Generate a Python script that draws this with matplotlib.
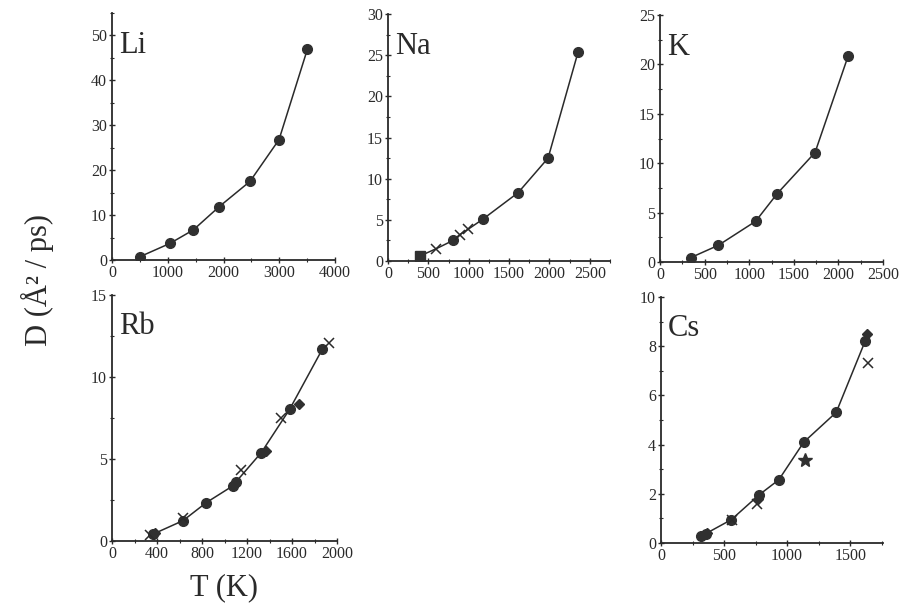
import matplotlib
matplotlib.use("Agg")
import matplotlib.pyplot as plt
from matplotlib.ticker import MultipleLocator

plt.rcParams["font.family"] = ["Liberation Serif", "DejaVu Serif"]

# Li
li_T = [502, 1040, 1459, 1925, 2475, 2996, 3504]
li_D = [0.74, 3.7, 6.7, 11.9, 17.5, 26.8, 46.9]

# Na
na_sq_T, na_sq_D = [393], [0.6]
na_x_T = [599, 888, 992]
na_x_D = [1.5, 3.2, 3.85]
na_c_T = [806, 1178, 1612, 1983, 2355]
na_c_D = [2.5, 5.1, 8.3, 12.5, 25.4]

# K
k_T = [344, 654, 1072, 1315, 1738, 2111]
k_D = [0.44, 1.69, 4.12, 6.93, 11.08, 20.9]

# Rb
rb_c_T = [365, 631, 838, 1076, 1099, 1327, 1579, 1870]
rb_c_D = [0.42, 1.24, 2.34, 3.37, 3.58, 5.39, 8.03, 11.7]
rb_x_T = [335, 631, 1150, 1505, 1925]
rb_x_D = [0.37, 1.38, 4.33, 7.48, 12.1]
rb_d_T = [385, 1372, 1662]
rb_d_D = [0.47, 5.5, 8.35]

# Cs
cs_c_T = [316, 355, 558, 776, 934, 1132, 1389, 1618]
cs_c_D = [0.30, 0.38, 0.95, 1.95, 2.57, 4.1, 5.31, 8.2]
cs_d_T = [368, 768, 1632]
cs_d_D = [0.41, 1.8, 8.5]
cs_x_T = [566, 763, 1645]
cs_x_D = [0.92, 1.6, 7.32]
cs_s_T, cs_s_D = [1145], [3.36]

W, H = 899, 612
fig = plt.figure(figsize=(W / 100, H / 100), dpi=100)

ink = "#2a2a2a"


def make_ax(left, right, bottom, top, xmax, ymax, xmaj, xmin, ymaj, ymin, name):
    ax = fig.add_axes([left / W, 1 - bottom / H, (right - left) / W, (bottom - top) / H])
    ax.set_xlim(0, xmax)
    ax.set_ylim(0, ymax)
    for s in ["top", "right"]:
        ax.spines[s].set_visible(False)
    for s in ["left", "bottom"]:
        ax.spines[s].set_linewidth(1.3)
        ax.spines[s].set_color(ink)
    ax.xaxis.set_major_locator(MultipleLocator(xmaj))
    ax.xaxis.set_minor_locator(MultipleLocator(xmin))
    ax.yaxis.set_major_locator(MultipleLocator(ymaj))
    ax.yaxis.set_minor_locator(MultipleLocator(ymin))
    ax.tick_params(which="major", direction="inout", length=5, width=1, colors=ink,
                   labelsize=11.5, pad=1)
    ax.tick_params(which="minor", direction="inout", length=3, width=0.8, colors=ink)
    ax.text(0.03, 0.84, name, transform=ax.transAxes, fontsize=22, color=ink)
    return ax


def line(ax, T, D):
    ax.plot(T, D, "-", color=ink, lw=1.1, zorder=2)


def circles(ax, T, D):
    ax.plot(T, D, "o", color="#303030", ms=7, ls="none", zorder=3)


def crosses(ax, T, D):
    ax.plot(T, D, "x", color=ink, ms=7.5, mew=1.1, ls="none", zorder=3)


ax = make_ax(112, 335, 260, 13, 4000, 55, 1000, 500, 10, 5, "Li")
line(ax, li_T, li_D)
circles(ax, li_T, li_D)

ax = make_ax(388, 610, 261, 14, 2750, 30, 500, 250, 5, 2.5, "Na")
na_pts = sorted(zip(na_sq_T + na_x_T + na_c_T, na_sq_D + na_x_D + na_c_D))
line(ax, [p[0] for p in na_pts], [p[1] for p in na_pts])
circles(ax, na_c_T, na_c_D)
crosses(ax, na_x_T, na_x_D)
ax.plot(na_sq_T, na_sq_D, "s", color="#303030", ms=6.5, ls="none", zorder=3)

ax = make_ax(660, 883, 262, 15, 2500, 25, 500, 250, 5, 2.5, "K")
line(ax, k_T, k_D)
circles(ax, k_T, k_D)

ax = make_ax(112, 337, 541, 295, 2000, 15, 400, 200, 5, 2.5, "Rb")
line(ax, rb_c_T, rb_c_D)
circles(ax, rb_c_T, rb_c_D)
crosses(ax, rb_x_T, rb_x_D)
ax.plot(rb_d_T, rb_d_D, "D", color="#303030", ms=5.5, ls="none", zorder=3)
ax.set_xlabel("T (K)", fontsize=22, color=ink, labelpad=8)

ax = make_ax(661, 883, 543, 297, 1760, 10, 500, 250, 2, 1, "Cs")
line(ax, cs_c_T, cs_c_D)
circles(ax, cs_c_T, cs_c_D)
crosses(ax, cs_x_T, cs_x_D)
ax.plot(cs_d_T, cs_d_D, "D", color="#303030", ms=5.5, ls="none", zorder=3)
ax.plot(cs_s_T, cs_s_D, "*", color="#303030", ms=10, ls="none", zorder=3)

fig.text(37 / W, 1 - 280 / H, "D (Å² / ps)", rotation=90, ha="center", va="center",
         fontsize=22, color=ink)

fig.savefig("out.png", dpi=100, facecolor="white")
